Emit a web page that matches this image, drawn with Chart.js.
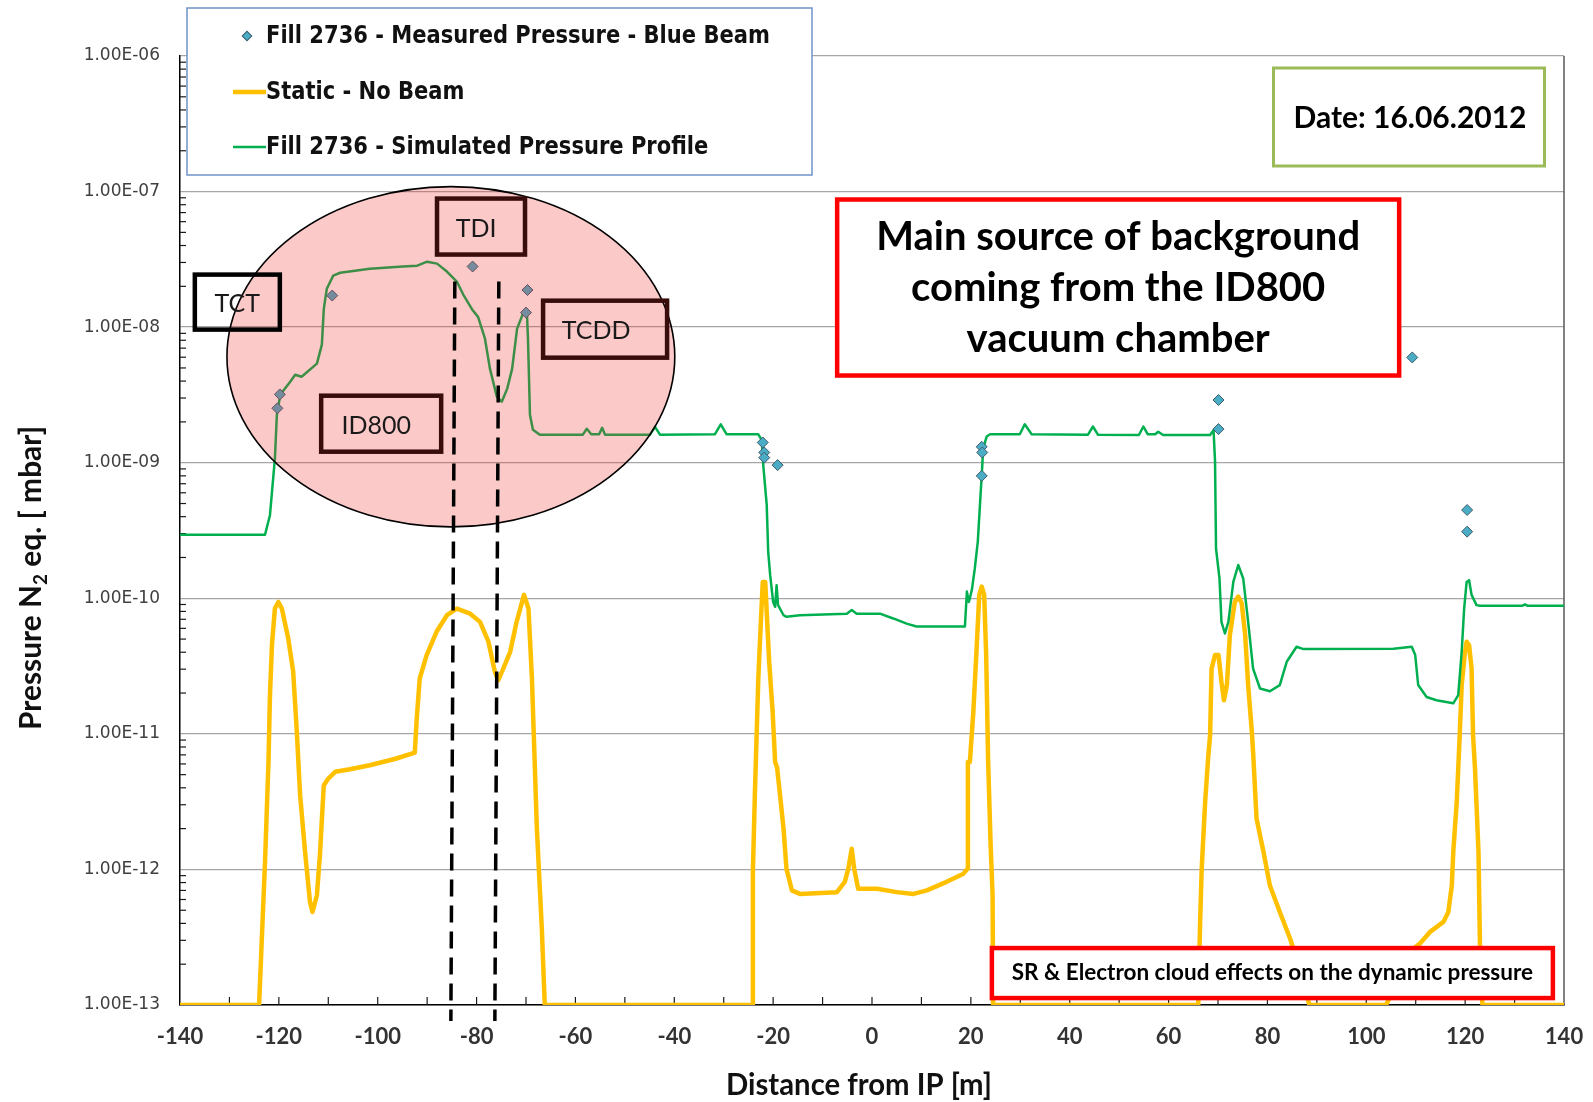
<!DOCTYPE html>
<html>
<head>
<meta charset="utf-8">
<script src="https://cdn.jsdelivr.net/npm/chart.js@4.4.0/dist/chart.umd.min.js"></script>
<style>
    html, body { margin: 0; padding: 0; background: #fff; }
    canvas { display: block; }
</style>
</head>
<body>
<canvas id="chart-pressure" width="1593" height="1102"></canvas>
<script>
// Pressure profile along the beam line, Fill 2736

// Fill 2736 - measured gauge readings (blue beam)
var measuredPos = [-120.3, -119.8, -109.2, -80.8, -70.0, -69.7, -22.1, -21.8, -21.8, -19.1,
    22.2, 22.3, 22.2, 70.1, 70.1, 109.3, 120.4, 120.4];
var measuredP = [2.52e-9, 3.19e-9, 1.71e-8, 2.80e-8, 1.28e-8, 1.88e-8, 1.41e-9, 1.19e-9, 1.09e-9, 9.6e-10,
    1.31e-9, 1.19e-9, 8.0e-10, 2.90e-9, 1.77e-9, 5.98e-9, 4.48e-10, 3.1e-10];

// static pressure, no beam
var staticPos = [-140, -124.0, -123.5, -122.8, -122.1, -121.8, -121.4, -120.8, -120.1, -119.4,
    -118.1, -117.1, -116.4, -115.7, -114.7, -113.7, -113.2, -112.3, -111.7, -111.1,
    -110.9, -110.0, -108.6, -105.6, -101.6, -96.2, -92.5, -92.1, -91.5, -90.1,
    -88.1, -86.0, -84.0, -81.3, -79.3, -77.6, -76.3, -75.6, -74.6, -73.2,
    -71.9, -70.4, -69.5, -68.8, -67.8, -66.8, -66.2, -24.2, -24.1, -23.7,
    -23.0, -22.7, -22.1, -21.6, -21.2, -20.8, -20.1, -19.6, -19.2, -18.6,
    -17.9, -17.3, -16.2, -14.6, -7.1, -5.5, -4.8, -4.1, -3.6, -2.8,
    1.0, 5.0, 8.4, 11.1, 15.1, 18.5, 19.3, 19.4, 19.8, 20.5,
    21.2, 21.7, 22.2, 22.7, 23.1, 23.5, 24.0, 24.4, 24.5, 66.0,
    66.4, 66.7, 67.4, 68.0, 68.4, 68.7, 69.4, 70.1, 70.7, 71.2,
    71.8, 72.4, 73.4, 74.1, 74.8, 75.5, 76.1, 76.8, 77.1, 77.8,
    79.2, 80.5, 82.5, 84.6, 85.9, 88.5, 104.0, 109.5, 110.9, 112.9,
    115.6, 116.6, 117.3, 117.6, 118.3, 118.6, 118.9, 119.3, 119.9, 120.3,
    120.8, 121.3, 121.6, 122.0, 122.7, 123.0, 123.5, 140];
var staticP = [1e-13, 1e-13, 2.76e-13, 1.13e-12, 6.2e-12, 1.93e-11, 4.52e-11, 8.4e-11, 9.4e-11, 8.4e-11,
    5.05e-11, 2.87e-11, 1.09e-11, 3.53e-12, 1.35e-12, 5.75e-13, 4.85e-13, 6.45e-13, 1.27e-12, 3.15e-12,
    4.18e-12, 4.68e-12, 5.25e-12, 5.48e-12, 5.87e-12, 6.58e-12, 7.28e-12, 1.30e-11, 2.56e-11, 3.81e-11,
    5.66e-11, 7.5e-11, 8.4e-11, 7.7e-11, 6.7e-11, 4.78e-11, 2.87e-11, 2.49e-11, 3.03e-11, 4.03e-11,
    6.7e-11, 1.06e-10, 8.4e-11, 2.56e-11, 2.0e-12, 3.66e-13, 1e-13, 1e-13, 9.6e-13, 3.53e-12,
    2.56e-11, 4.52e-11, 1.32e-10, 1.32e-10, 6.7e-11, 3.4e-11, 1.45e-11, 6.2e-12, 5.65e-12, 3.53e-12,
    2.0e-12, 1.01e-12, 7.0e-13, 6.6e-13, 6.8e-13, 8.1e-13, 1.01e-12, 1.42e-12, 1.01e-12, 7.2e-13,
    7.2e-13, 6.8e-13, 6.6e-13, 7.0e-13, 8.1e-13, 9.3e-13, 1.01e-12, 6.2e-12, 6.2e-12, 1.45e-11,
    4.52e-11, 1.06e-10, 1.22e-10, 1.06e-10, 3.81e-11, 6.2e-12, 1.51e-12, 6.45e-13, 1e-13, 1e-13,
    4.34e-13, 1.01e-12, 3.15e-12, 6.58e-12, 9.8e-12, 3.03e-11, 3.81e-11, 3.81e-11, 2.42e-11, 1.77e-11,
    2.29e-11, 5.35e-11, 9.4e-11, 1.03e-10, 9.2e-11, 5.35e-11, 2.29e-11, 1.09e-11, 7.36e-12, 2.37e-12,
    1.35e-12, 7.6e-13, 4.85e-13, 3.08e-13, 2.2e-13, 1e-13, 1e-13, 2.6e-13, 2.85e-13, 3.46e-13,
    4.1e-13, 4.85e-13, 7.6e-13, 1.35e-12, 3.15e-12, 5.5e-12, 9.8e-12, 2.29e-11, 3.81e-11, 4.78e-11,
    4.5e-11, 3.03e-11, 9.8e-12, 5.5e-12, 1.35e-12, 2.75e-13, 1e-13, 1e-13];

// Fill 2736 - simulated pressure profile
var simPos = [-140, -122.8, -121.8, -120.8, -120.4, -119.7, -117.7, -116.7, -115.4, -112.3,
    -111.3, -110.9, -110.3, -109.0, -107.6, -101.6, -94.9, -92.0, -90.0, -88.0,
    -86.0, -84.0, -82.7, -80.9, -79.7, -78.3, -77.3, -75.9, -74.9, -73.8,
    -72.8, -71.8, -70.6, -69.8, -69.6, -69.2, -68.6, -67.2, -58.5, -57.7,
    -56.8, -55.2, -54.6, -54.0, -44.9, -43.9, -42.9, -31.8, -30.6, -29.4,
    -23.0, -22.3, -22.0, -21.3, -21.0, -20.6, -20.0, -19.6, -19.3, -19.0,
    -17.9, -17.3, -14.6, -5.1, -4.1, -3.1, 1.6, 4.3, 7.0, 9.0,
    18.8, 19.2, 19.6, 20.2, 20.8, 21.4, 21.8, 22.2, 22.5, 23.2,
    23.9, 29.9, 30.9, 32.3, 43.7, 44.7, 45.7, 54.0, 54.9, 55.8,
    57.3, 57.9, 58.9, 68.4, 69.1, 69.4, 69.6, 70.3, 70.7, 71.4,
    72.1, 73.1, 74.1, 75.1, 76.1, 77.1, 78.5, 80.5, 82.5, 83.9,
    85.9, 87.3, 105.5, 109.2, 109.9, 110.5, 112.2, 114.2, 117.6, 118.6,
    119.3, 119.8, 120.3, 120.8, 121.3, 122.3, 123.0, 131.5, 132.1, 132.7,
    140];
var simP = [2.94e-10, 2.94e-10, 4.1e-10, 1.07e-9, 2.26e-9, 3.18e-9, 3.96e-9, 4.46e-9, 4.31e-9, 5.38e-9,
    7.43e-9, 1.37e-8, 1.92e-8, 2.40e-8, 2.52e-8, 2.70e-8, 2.80e-8, 2.84e-8, 3.04e-8, 2.94e-8,
    2.57e-8, 2.17e-8, 1.74e-8, 1.35e-8, 1.19e-8, 8.22e-9, 4.94e-9, 3.07e-9, 2.82e-9, 3.52e-9,
    4.94e-9, 9.75e-9, 1.26e-8, 1.24e-8, 8.22e-9, 2.26e-9, 1.75e-9, 1.61e-9, 1.61e-9, 1.78e-9,
    1.62e-9, 1.62e-9, 1.81e-9, 1.61e-9, 1.61e-9, 1.84e-9, 1.61e-9, 1.62e-9, 1.92e-9, 1.62e-9,
    1.62e-9, 1.47e-9, 9.6e-10, 4.88e-10, 2.2e-10, 1.48e-10, 9.4e-11, 8.65e-11, 1.25e-10, 8.9e-11,
    7.5e-11, 7.3e-11, 7.5e-11, 7.7e-11, 8.2e-11, 7.7e-11, 7.7e-11, 7.1e-11, 6.5e-11, 6.2e-11,
    6.2e-11, 1.12e-10, 9.4e-11, 1.15e-10, 1.66e-10, 2.61e-10, 4.6e-10, 8.1e-10, 1.28e-9, 1.56e-9,
    1.62e-9, 1.62e-9, 1.92e-9, 1.62e-9, 1.61e-9, 1.85e-9, 1.61e-9, 1.60e-9, 1.85e-9, 1.62e-9,
    1.62e-9, 1.69e-9, 1.60e-9, 1.60e-9, 1.74e-9, 1.02e-9, 2.33e-10, 1.40e-10, 6.7e-11, 5.5e-11,
    6.7e-11, 1.32e-10, 1.76e-10, 1.40e-10, 6.7e-11, 3.03e-11, 2.16e-11, 2.06e-11, 2.29e-11, 3.40e-11,
    4.39e-11, 4.22e-11, 4.24e-11, 4.39e-11, 3.81e-11, 2.29e-11, 1.87e-11, 1.77e-11, 1.68e-11, 1.93e-11,
    4.03e-11, 8.4e-11, 1.32e-10, 1.36e-10, 1.06e-10, 8.9e-11, 8.8e-11, 8.8e-11, 9.0e-11, 8.8e-11,
    8.8e-11];

// axis ranges and tick values
var yTicks = [1e-13, 1e-12, 1e-11, 1e-10, 1e-9, 1e-8, 1e-7, 1e-6];
var xMin = -140, xMax = 140, xStep = 20, xMinorStep = 10;

var seriesNames = ['Fill 2736 - Measured Pressure - Blue Beam', 'Static - No Beam', 'Fill 2736 - Simulated Pressure Profile'];

// callouts on the plot, centres given in data units
var ellipseMark = { x: -85.2, p: 6.05e-9, halfWidth: 45.3, decades: 1.255 };
var dashMarks = [
    { top: -84.4, bottom: -85.2 },
    { top: -75.5, bottom: -76.3 }
];
var dashTopP = 2.17e-8;
var labelBoxes = [
    { text: 'TCT', x: -128.4, p: 1.53e-8, w: 85, h: 55, dx: 0, color: '#000000' },
    { text: 'TDI', x: -79.1, p: 5.52e-8, w: 88, h: 56, dx: -5, color: '#3a0d0d' },
    { text: 'TCDD', x: -54.0, p: 9.66e-9, w: 124, h: 57, dx: -9, color: '#3a0d0d' },
    { text: 'ID800', x: -99.3, p: 1.94e-9, w: 120, h: 56, dx: -5, color: '#3a0d0d' }
];
var noteLines = ['Main source of background', 'coming from the ID800', 'vacuum chamber'];
var noteBox = { x: 49.8, p: 1.96e-8, w: 562, h: 176 };
var srNote = 'SR & Electron cloud effects on the dynamic pressure';
var srBox = { x: 81.0, p: 1.72e-13, w: 561, h: 50 };
var dateText = 'Date: 16.06.2012';

function toPoints(xs, ys) {
    var pts = [];
    for (var i = 0; i < xs.length; i++) {
        pts.push({ x: xs[i], y: ys[i] });
    }
    return pts;
}

function sciLabel(v) {
    var e = Math.round(Math.log10(v));
    var m = v / Math.pow(10, e);
    var sign = e < 0 ? '-' : '+';
    var ae = Math.abs(e);
    return m.toFixed(2) + 'E' + sign + (ae < 10 ? '0' + ae : ae);
}

function boxAt(ctx, cx, cy, w, h, stroke, lw, fill) {
    if (fill) {
        ctx.fillStyle = fill;
        ctx.fillRect(cx - w / 2, cy - h / 2, w, h);
    }
    ctx.strokeStyle = stroke;
    ctx.lineWidth = lw;
    ctx.strokeRect(cx - w / 2, cy - h / 2, w, h);
}

var decorations = {
    id: 'decorations',
    beforeDatasetsDraw: function (chart) {
        var ctx = chart.ctx;
        var xs = chart.scales.x, ys = chart.scales.y, area = chart.chartArea;
        ctx.save();
        // right frame of the plot area
        ctx.strokeStyle = '#595959';
        ctx.lineWidth = 1.5;
        ctx.beginPath();
        ctx.moveTo(area.right, area.top);
        ctx.lineTo(area.right, area.bottom);
        ctx.stroke();

        // minor ticks, inside the plot
        ctx.strokeStyle = '#1a1a1a';
        ctx.lineWidth = 1.2;
        for (var i = 0; i < yTicks.length - 1; i++) {
            for (var m = 2; m <= 9; m++) {
                var yy = ys.getPixelForValue(yTicks[i] * m);
                ctx.beginPath();
                ctx.moveTo(area.left, yy);
                ctx.lineTo(area.left + 6, yy);
                ctx.stroke();
            }
        }
        for (var xv = xMin + xMinorStep; xv < xMax; xv += xMinorStep) {
            var xx = xs.getPixelForValue(xv);
            ctx.beginPath();
            ctx.moveTo(xx, area.bottom);
            ctx.lineTo(xx, area.bottom - 8);
            ctx.stroke();
        }
        ctx.restore();
    },
    afterDatasetsDraw: function (chart) {
        var ctx = chart.ctx;
        var xs = chart.scales.x, ys = chart.scales.y, area = chart.chartArea;
        ctx.save();

        // highlighted region around the ID800 / TDI area
        var ecx = xs.getPixelForValue(ellipseMark.x);
        var ecy = ys.getPixelForValue(ellipseMark.p);
        var erx = xs.getPixelForValue(ellipseMark.x + ellipseMark.halfWidth) - ecx;
        var ery = ys.getPixelForValue(ellipseMark.p / Math.pow(10, ellipseMark.decades)) - ecy;
        ctx.beginPath();
        ctx.ellipse(ecx, ecy, erx, ery, 0, 0, Math.PI * 2);
        ctx.fillStyle = 'rgba(245, 40, 40, 0.25)';
        ctx.fill();
        ctx.strokeStyle = '#000';
        ctx.lineWidth = 1.6;
        ctx.stroke();

        // dashed markers down to the axis
        ctx.strokeStyle = '#000';
        ctx.lineWidth = 3.5;
        ctx.setLineDash([17, 9]);
        var topY = ys.getPixelForValue(dashTopP);
        dashMarks.forEach(function (d) {
            ctx.beginPath();
            ctx.moveTo(xs.getPixelForValue(d.top), topY);
            ctx.lineTo(xs.getPixelForValue(d.bottom), area.bottom + 16);
            ctx.stroke();
        });
        ctx.setLineDash([]);

        // element labels
        ctx.font = '25px Lato';
        ctx.textAlign = 'center';
        ctx.textBaseline = 'middle';
        labelBoxes.forEach(function (b) {
            var cx = xs.getPixelForValue(b.x), cy = ys.getPixelForValue(b.p);
            boxAt(ctx, cx, cy, b.w, b.h, b.color, 4.5, null);
            ctx.fillStyle = '#1a1a1a';
            ctx.fillText(b.text, cx + b.dx, cy + 2);
        });

        // red notes
        var nx = xs.getPixelForValue(noteBox.x), ny = ys.getPixelForValue(noteBox.p);
        boxAt(ctx, nx, ny, noteBox.w, noteBox.h, '#ff0000', 4.5, '#fff');
        ctx.fillStyle = '#000';
        ctx.font = 'bold 40px Lato';
        noteLines.forEach(function (t, i) {
            ctx.fillText(t, nx, ny - 50 + i * 51);
        });

        var sx = xs.getPixelForValue(srBox.x), sy = ys.getPixelForValue(srBox.p);
        boxAt(ctx, sx, sy, srBox.w, srBox.h, '#ff0000', 4.5, '#fff');
        ctx.fillStyle = '#000';
        ctx.font = 'bold 22.5px Lato';
        ctx.fillText(srNote, sx, sy);
        ctx.restore();
    },
    afterDraw: function (chart) {
        var ctx = chart.ctx;
        var sets = chart.data.datasets;
        ctx.save();

        // date stamp
        boxAt(ctx, 1409, 117, 271, 98, '#9bbb59', 3, '#fff');
        ctx.fillStyle = '#000';
        ctx.font = 'bold 30px Lato';
        ctx.textAlign = 'center';
        ctx.textBaseline = 'middle';
        ctx.fillText(dateText, 1410, 118);

        // legend
        boxAt(ctx, 499.5, 91.5, 625, 167, '#6f93c9', 1.5, '#fff');
        ctx.textAlign = 'left';
        ctx.font = 'bold 24px "DejaVu Sans Condensed", "DejaVu Sans"';
        var rows = [36, 92, 147];
        var ms = sets[0];
        ctx.save();
        ctx.translate(247, rows[0]);
        ctx.rotate(Math.PI / 4);
        ctx.fillStyle = ms.backgroundColor;
        ctx.strokeStyle = ms.borderColor;
        ctx.lineWidth = 1;
        ctx.fillRect(-3.4, -3.4, 6.8, 6.8);
        ctx.strokeRect(-3.4, -3.4, 6.8, 6.8);
        ctx.restore();
        [1, 2].forEach(function (k) {
            ctx.strokeStyle = sets[k].borderColor;
            ctx.lineWidth = sets[k].borderWidth;
            ctx.beginPath();
            ctx.moveTo(233, rows[k]);
            ctx.lineTo(266, rows[k]);
            ctx.stroke();
        });
        seriesNames.forEach(function (name, k) {
            ctx.save();
            ctx.translate(266, rows[k] + 1);
            ctx.scale(0.975, 1);
            ctx.fillStyle = '#111';
            ctx.fillText(name, 0, 0);
            ctx.restore();
        });

        // axis titles
        ctx.fillStyle = '#111';
        ctx.font = 'bold 30px Lato';
        ctx.textAlign = 'center';
        ctx.textBaseline = 'alphabetic';
        ctx.fillText('Distance from IP [m]', 859, 1095, 266);

        ctx.save();
        ctx.translate(41, 578);
        ctx.rotate(-Math.PI / 2);
        var partA = 'Pressure N', partB = '2', partC = ' eq. [ mbar]';
        ctx.font = 'bold 30px Lato';
        var wa = ctx.measureText(partA).width, wc = ctx.measureText(partC).width;
        ctx.font = 'bold 19px Lato';
        var wb = ctx.measureText(partB).width;
        var total = wa + wb + wc;
        var k = Math.min(1, 304 / total);
        ctx.scale(k, 1);
        ctx.textAlign = 'left';
        var x0 = -total / 2;
        ctx.font = 'bold 30px Lato';
        ctx.fillText(partA, x0, 0);
        ctx.fillText(partC, x0 + wa + wb, 0);
        ctx.font = 'bold 19px Lato';
        ctx.fillText(partB, x0 + wa, 6);
        ctx.restore();

        ctx.restore();
    }
};

var ctx = document.getElementById('chart-pressure').getContext('2d');
var pressureChart = new Chart(ctx, {
    type: 'scatter',
    data: {
        datasets: [{
            label: seriesNames[0],
            data: toPoints(measuredPos, measuredP),
            showLine: false,
            pointStyle: 'rectRot',
            pointRadius: 5.5,
            backgroundColor: '#4bacc6',
            borderColor: '#3d5c6b',
            pointBorderWidth: 1,
            order: 0
        }, {
            label: seriesNames[1],
            data: toPoints(staticPos, staticP),
            showLine: true,
            pointRadius: 0,
            borderColor: '#ffc000',
            backgroundColor: '#ffc000',
            borderWidth: 4.5,
            borderJoinStyle: 'round',
            tension: 0,
            order: 2
        }, {
            label: seriesNames[2],
            data: toPoints(simPos, simP),
            showLine: true,
            pointRadius: 0,
            borderColor: '#00b050',
            backgroundColor: '#00b050',
            borderWidth: 2.5,
            borderJoinStyle: 'round',
            tension: 0,
            order: 1
        }]
    },
    options: {
        responsive: false,
        animation: false,
        events: [],
        layout: { padding: { top: 56, right: 29, left: 0, bottom: 0 } },
        plugins: {
            legend: { display: false },
            tooltip: { enabled: false }
        },
        scales: {
            x: {
                type: 'linear',
                min: xMin,
                max: xMax,
                ticks: {
                    stepSize: xStep,
                    color: '#333',
                    padding: 19,
                    maxRotation: 0,
                    font: { family: 'Lato', weight: 'bold', size: 22 }
                },
                grid: { display: false, drawTicks: false },
                border: { display: true, color: '#000', width: 1.5 },
                afterFit: function (scale) {
                    scale.height = 97;
                    // the end labels overhang into the page margins
                    scale.paddingLeft = 0;
                    scale.paddingRight = 0;
                }
            },
            y: {
                type: 'logarithmic',
                min: yTicks[0],
                max: yTicks[yTicks.length - 1],
                afterBuildTicks: function (axis) {
                    axis.ticks = yTicks.map(function (v) { return { value: v }; });
                },
                ticks: {
                    color: '#404040',
                    padding: 20,
                    font: { family: 'DejaVu Sans', size: 17 },
                    callback: function (v) { return sciLabel(v); }
                },
                grid: { color: '#a6a6a6', lineWidth: 1.3, drawTicks: false },
                border: { display: true, color: '#000', width: 1.5 },
                afterFit: function (scale) { scale.width = 180; }
            }
        }
    },
    plugins: [decorations]
});
</script>
</body>
</html>
